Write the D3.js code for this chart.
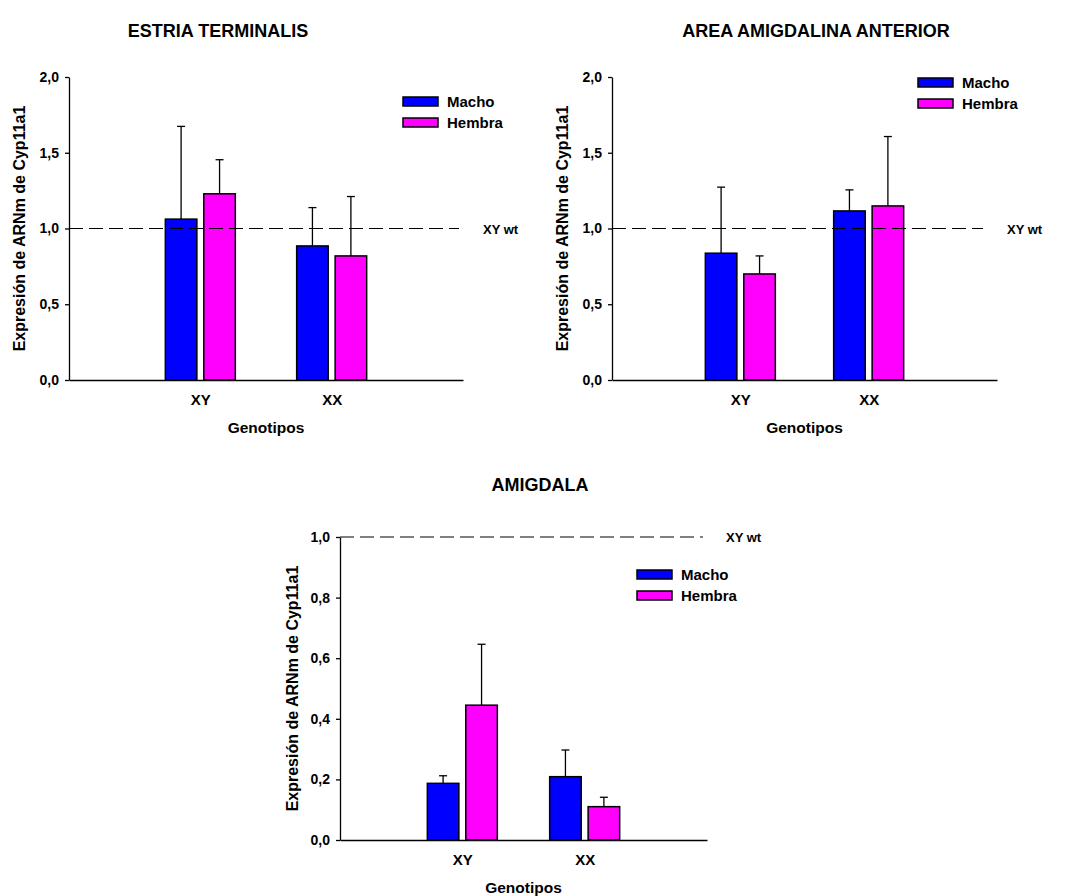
<!DOCTYPE html>
<html>
<head>
<meta charset="utf-8">
<script src="https://cdn.jsdelivr.net/npm/d3@7"></script>
<style>
  body { margin: 0; background: #fff; }
  svg { font-family: "Liberation Sans", Arial, sans-serif; font-weight: bold; }
</style>
</head>
<body>
<div id="chart"></div>
<script>
// data
const genotypes = ["XY", "XX"];
const sexes = ["Macho", "Hembra"];

const estriaMacho = [1.062, 0.885];
const estriaMachoErr = [0.612, 0.253];
const estriaHembra = [1.229, 0.819];
const estriaHembraErr = [0.225, 0.392];

const areaMacho = [0.837, 1.116];
const areaMachoErr = [0.436, 0.139];
const areaHembra = [0.700, 1.149];
const areaHembraErr = [0.119, 0.458];

const amigMacho = [0.187, 0.209];
const amigMachoErr = [0.025, 0.088];
const amigHembra = [0.445, 0.110];
const amigHembraErr = [0.201, 0.031];

const ticksTop = [0, 0.5, 1, 1.5, 2];
const ticksBottom = [0, 0.2, 0.4, 0.6, 0.8, 1];
const refValue = 1.0;

const colors = { Macho: "#0000ff", Hembra: "#ff00ff" };

const fmt = v => d3.format(".1f")(v).replace(".", ",");

const svg = d3.select("#chart").append("svg")
    .attr("width", 1065)
    .attr("height", 896);

svg.append("rect").attr("width", 1065).attr("height", 896).attr("fill", "#fff");

// panel layout
const panels = [
    {
        title: "ESTRIA TERMINALIS", titleX: 218, titleY: 37,
        x0: 69, x1: 463, yTop: 77, yBot: 380, max: 2, ticks: ticksTop,
        macho: estriaMacho, machoErr: estriaMachoErr,
        hembra: estriaHembra, hembraErr: estriaHembraErr,
        dashEnd: 459, wtX: 483, legX: 403, legY: 97, ylabX: 25
    },
    {
        title: "AREA AMIGDALINA ANTERIOR", titleX: 816, titleY: 37,
        x0: 612, x1: 997, yTop: 77, yBot: 380, max: 2, ticks: ticksTop,
        macho: areaMacho, machoErr: areaMachoErr,
        hembra: areaHembra, hembraErr: areaHembraErr,
        dashEnd: 983, wtX: 1007, legX: 918, legY: 78, ylabX: 568
    },
    {
        title: "AMIGDALA", titleX: 540, titleY: 491,
        x0: 340, x1: 707, yTop: 537, yBot: 840, max: 1, ticks: ticksBottom,
        macho: amigMacho, machoErr: amigMachoErr,
        hembra: amigHembra, hembraErr: amigHembraErr,
        dashEnd: 703, wtX: 726, legX: 637, legY: 570, ylabX: 298
    }
];

panels.forEach(drawPanel);

function drawPanel(p) {
    const g = svg.append("g");

    const x = d3.scalePoint()
        .domain(genotypes)
        .range([p.x0, p.x1])
        .padding(1);

    const xs = d3.scaleBand()
        .domain(sexes)
        .range([-35, 35])
        .paddingInner(0.18);

    const y = d3.scaleLinear()
        .domain([0, p.max])
        .range([p.yBot, p.yTop]);

    const rows = [];
    genotypes.forEach((gt, i) => {
        rows.push({ genotype: gt, sex: "Macho", value: p.macho[i], err: p.machoErr[i] });
        rows.push({ genotype: gt, sex: "Hembra", value: p.hembra[i], err: p.hembraErr[i] });
    });

    // title
    g.append("text")
        .attr("x", p.titleX)
        .attr("y", p.titleY)
        .attr("text-anchor", "middle")
        .attr("font-size", 18)
        .text(p.title);

    // bars
    g.selectAll("rect.bar")
        .data(rows)
        .join("rect")
        .attr("class", "bar")
        .attr("x", d => x(d.genotype) + xs(d.sex))
        .attr("width", xs.bandwidth())
        .attr("y", d => y(d.value))
        .attr("height", d => y(0) - y(d.value))
        .attr("fill", d => colors[d.sex])
        .attr("stroke", "#000")
        .attr("stroke-width", 1.5);

    // error bars (upper only)
    const eb = g.selectAll("g.err")
        .data(rows)
        .join("g")
        .attr("class", "err")
        .attr("transform", d => `translate(${x(d.genotype) + xs(d.sex) + xs.bandwidth() / 2},0)`);

    eb.append("line")
        .attr("y1", d => y(d.value))
        .attr("y2", d => y(d.value + d.err))
        .attr("stroke", "#000")
        .attr("stroke-width", 1.3);

    eb.append("line")
        .attr("x1", -4).attr("x2", 4)
        .attr("y1", d => y(d.value + d.err))
        .attr("y2", d => y(d.value + d.err))
        .attr("stroke", "#000")
        .attr("stroke-width", 1.3);

    // reference line
    g.append("line")
        .attr("x1", p.x0).attr("x2", p.dashEnd)
        .attr("y1", y(refValue)).attr("y2", y(refValue))
        .attr("stroke", "#000")
        .attr("stroke-width", 1)
        .attr("stroke-dasharray", "14,6");

    g.append("text")
        .attr("x", p.wtX)
        .attr("y", y(refValue) + 5)
        .attr("font-size", 13)
        .text("XY wt");

    // axes
    const yAxis = g.append("g")
        .attr("transform", `translate(${p.x0},0)`)
        .call(d3.axisLeft(y).tickValues(p.ticks).tickFormat(fmt).tickSize(4).tickSizeOuter(0).tickPadding(6));
    yAxis.selectAll("text").attr("font-size", 14).attr("fill", "#000");
    yAxis.selectAll("line, path").attr("stroke", "#000").attr("stroke-width", 1.3);
    yAxis.attr("font-family", null).attr("font-size", null);

    const xAxis = g.append("g")
        .attr("transform", `translate(0,${p.yBot})`)
        .call(d3.axisBottom(x).tickSize(0).tickSizeOuter(0).tickPadding(14));
    xAxis.selectAll("text").attr("font-size", 15).attr("fill", "#000");
    xAxis.selectAll("path").attr("stroke", "#000").attr("stroke-width", 1.5);
    xAxis.attr("font-family", null).attr("font-size", null);

    // axis titles
    g.append("text")
        .attr("x", (p.x0 + p.x1) / 2)
        .attr("y", p.yBot + 53)
        .attr("text-anchor", "middle")
        .attr("font-size", 15.5)
        .text("Genotipos");

    g.append("text")
        .attr("transform", `translate(${p.ylabX},${(p.yTop + p.yBot) / 2}) rotate(-90)`)
        .attr("text-anchor", "middle")
        .attr("font-size", 16)
        .text("Expresión de ARNm de Cyp11a1");

    // legend
    const leg = g.selectAll("g.leg")
        .data(sexes)
        .join("g")
        .attr("class", "leg")
        .attr("transform", (d, i) => `translate(${p.legX},${p.legY + i * 21})`);

    leg.append("rect")
        .attr("width", 35)
        .attr("height", 9)
        .attr("fill", d => colors[d])
        .attr("stroke", "#000")
        .attr("stroke-width", 1.5);

    leg.append("text")
        .attr("x", 44)
        .attr("y", 9.5)
        .attr("font-size", 15)
        .text(d => d);
}
</script>
</body>
</html>
